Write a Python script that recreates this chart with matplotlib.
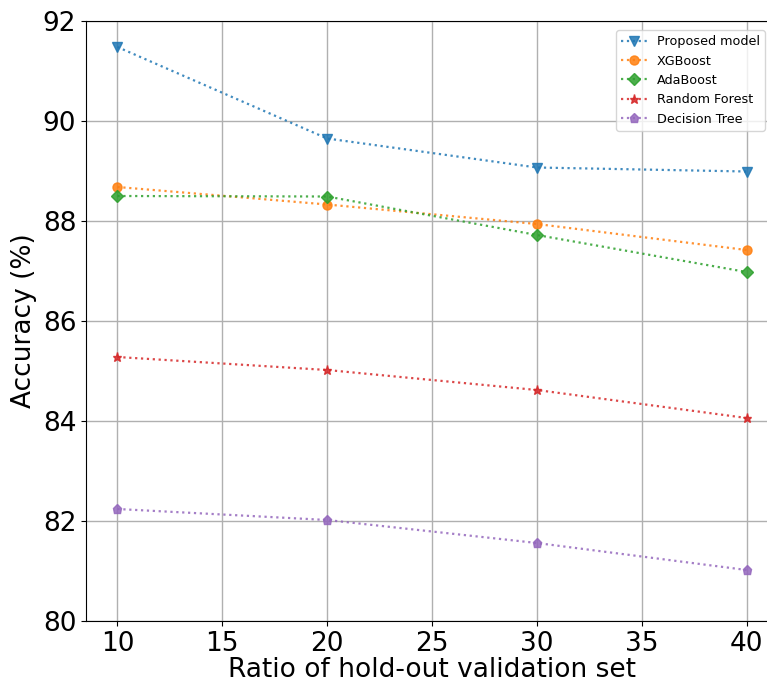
import matplotlib.pyplot as plt

ratios = [10, 20, 30, 40]
proposed = [91.48, 89.65, 89.07, 88.99]
xgboost = [88.68, 88.33, 87.94, 87.42]
adaboost = [88.50, 88.49, 87.72, 86.98]
random_forest = [85.28, 85.02, 84.62, 84.06]
decision_tree = [82.24, 82.02, 81.56, 81.02]

series = [
    ("Proposed model", proposed, "v"),
    ("XGBoost", xgboost, "o"),
    ("AdaBoost", adaboost, "D"),
    ("Random Forest", random_forest, "*"),
    ("Decision Tree", decision_tree, "p"),
]
colors = ["#1f77b4", "#ff7f0e", "#2ca02c", "#d62728", "#9467bd"]

fig = plt.figure(figsize=(7.67, 6.83), dpi=100)
ax = fig.add_axes([86 / 767, 62 / 683, 692 / 767, 600 / 683])

for (name, vals, marker), c in zip(series, colors):
    ax.plot(ratios, vals, linestyle=":", marker=marker, color=c, label=name,
            linewidth=1.6, markersize=6.5, alpha=0.85)

ax.set_ylim(80, 92)
ax.set_xlim(8.5, 41.5)
ax.set_xticks([10, 15, 20, 25, 30, 35, 40])
ax.set_yticks([80, 82, 84, 86, 88, 90, 92])
ax.grid(True, color="#b0b0b0", linewidth=1)
ax.tick_params(labelsize=19)
ax.set_xlabel("Ratio of hold-out validation set", fontsize=19, labelpad=0)
ax.set_ylabel("Accuracy (%)", fontsize=19)
ax.legend(loc="upper right", bbox_to_anchor=(765 / 767, 1 - 30 / 683),
          bbox_transform=fig.transFigure, fontsize=9.2, borderaxespad=0)

fig.savefig("out.png", dpi=100)
